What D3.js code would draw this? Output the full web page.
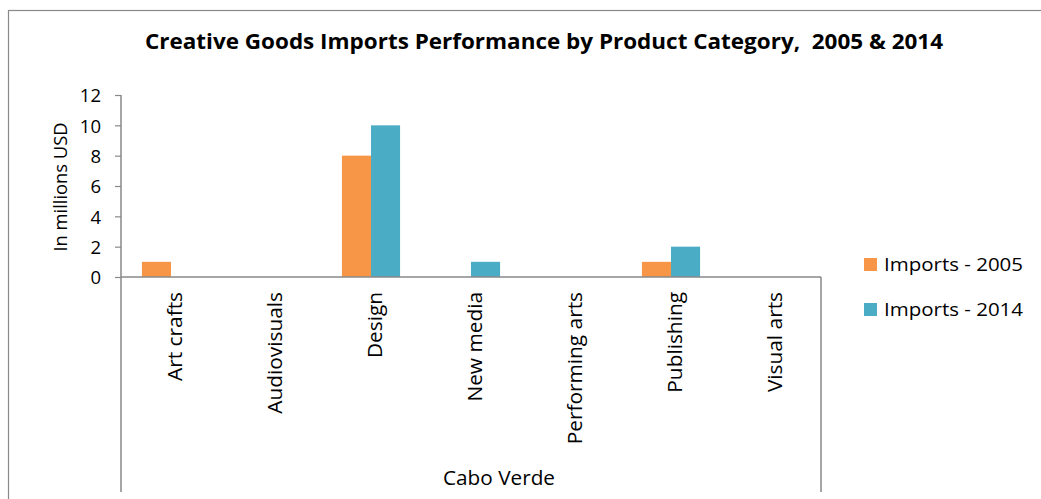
<!DOCTYPE html>
<html><head><meta charset="utf-8">
<script src="https://cdn.jsdelivr.net/npm/d3@7"></script>
<style>body{margin:0;background:#fff;} text{font-family:"Open Sans",sans-serif;fill:#000;white-space:pre;}</style>
</head><body>
<svg id="c" width="1041" height="499"></svg>
<script>
const categories = ["Art crafts","Audiovisuals","Design","New media","Performing arts","Publishing","Visual arts"];
const seriesNames = ["Imports - 2005","Imports - 2014"];
const imports2005 = [1,0,8,0,0,1,0];
const imports2014 = [0,0,10,1,0,2,0];
const yTicks = [0,2,4,6,8,10,12];
const groupLabel = "Cabo Verde";
const titleText = "Creative Goods Imports Performance by Product Category,  2005 & 2014";
const yTitle = "In millions USD";
const colors = ["#F79646","#4BACC6"];

const svg = d3.select("#c");
const axisColor = "#898989";
const L = 121, R = 821, T = 95, B = 277;

// outer border
svg.append("rect").attr("x",8.5).attr("y",10.5).attr("width",1100).attr("height",600)
  .attr("fill","none").attr("stroke",axisColor).attr("stroke-width",1.2);

function fitTo(sel, target){
  sel.attr("textLength", target).attr("lengthAdjust","spacingAndGlyphs");
}
function scaleBy(sel, factor){
  sel.each(function(){ const w=this.getComputedTextLength(); d3.select(this).attr("textLength", w*factor).attr("lengthAdjust","spacingAndGlyphs"); });
}

// title
const title = svg.append("text").attr("x",544).attr("y",49).attr("text-anchor","middle")
  .style("font-weight","bold").style("font-size","21px").text(titleText);
fitTo(title, 798);

const x0 = d3.scaleBand().domain(categories).range([L,R]).paddingInner(0).paddingOuter(0);
const x1 = d3.scaleBand().domain(seriesNames).range([0,x0.bandwidth()]).paddingInner(0).paddingOuter(0.72);
const y = d3.scaleLinear().domain([0,12]).range([B,T]);

// bars
const data = categories.map((c,i)=>({c, vals:[imports2005[i],imports2014[i]]}));
const g = svg.append("g");
data.forEach(d=>{
  seriesNames.forEach((s,j)=>{
    if(d.vals[j]>0){
      g.append("rect").attr("x",x0(d.c)+x1(s)).attr("y",y(d.vals[j]))
       .attr("width",x1.bandwidth()).attr("height",y(0)-y(d.vals[j])).attr("fill",colors[j]);
    }
  });
});

// y axis
const yAxis = d3.axisLeft(y).tickValues(yTicks).tickSize(6).tickPadding(14);
const ya = svg.append("g").attr("transform",`translate(${L},0)`).call(yAxis);
ya.select(".domain").remove();
ya.selectAll("line").attr("stroke",axisColor).attr("stroke-width",1.2);
ya.selectAll("text").style("font-size","18.5px").style("font-family","'Open Sans',sans-serif").attr("fill","#000").attr("dy","0.36em");
svg.append("line").attr("x1",L).attr("x2",L).attr("y1",T).attr("y2",492).attr("stroke",axisColor).attr("stroke-width",1.5);
// x axis line
svg.append("line").attr("x1",L).attr("x2",R).attr("y1",B).attr("y2",B).attr("stroke",axisColor).attr("stroke-width",1.5);
svg.append("line").attr("x1",R).attr("x2",R).attr("y1",B).attr("y2",492).attr("stroke",axisColor).attr("stroke-width",1.5);

// y title
const yt = svg.append("text").attr("transform","translate(67,187) rotate(-90)").attr("text-anchor","middle")
  .style("font-size","18px").text(yTitle);
fitTo(yt,129);

// category labels
const cl = svg.append("g").selectAll("text").data(categories).join("text")
  .attr("transform",d=>`translate(${x0(d)+x0.bandwidth()/2+11},292) rotate(-90)`)
  .attr("text-anchor","end").style("font-size","20px").text(d=>d);
const refW = cl.filter(d=>d==="Art crafts").node().getComputedTextLength();
scaleBy(cl, 89/refW);

// group label
const gl = svg.append("text").attr("x",499).attr("y",485).attr("text-anchor","middle")
  .style("font-size","20.5px").text(groupLabel);
fitTo(gl,112);

// legend
const lg = svg.append("g");
const legendBase = [271,316];
seriesNames.forEach((s,j)=>{
  const yy = legendBase[j];
  lg.append("rect").attr("x",864).attr("y",yy-13).attr("width",13).attr("height",13).attr("fill",colors[j]);
  const t = lg.append("text").attr("x",884).attr("y",yy).style("font-size","19px").text(s);
  fitTo(t,139);
});
</script>
</body></html>
